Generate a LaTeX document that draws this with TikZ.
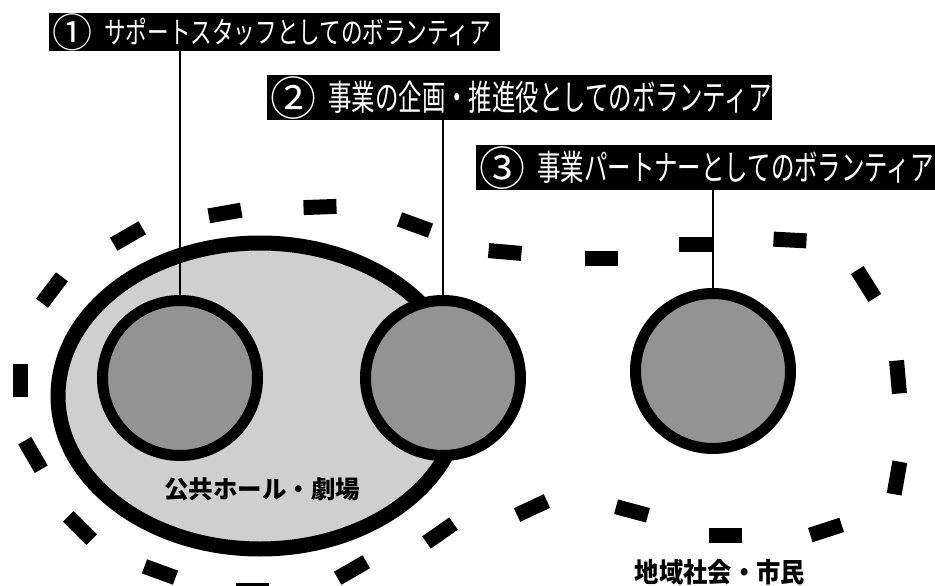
\documentclass[tikz,border=0pt]{standalone}
\usepackage{fontspec}
\newfontfamily\jp{Noto Sans CJK JP}
\newfontfamily\jpa[FakeStretch=0.72]{Noto Sans CJK JP}
\newfontfamily\jpb[FakeStretch=0.67]{Noto Sans CJK JP}
\newfontfamily\jpc[FakeStretch=0.9]{Noto Sans CJK JP}
\usetikzlibrary{shapes.geometric}
\definecolor{hallgray}{HTML}{CFCFCF}
\definecolor{volgray}{HTML}{939393}
\newcommand{\circnum}[2]{\raisebox{-0.13em}{\jp\fontsize{#1}{#1}\selectfont #2}\hspace{12pt}}
\begin{document}
\begin{tikzpicture}[x=1pt,y=-1pt,
  lbox/.style={fill=black, draw=none, minimum height=45, inner sep=0, anchor=north west},
  ltext/.style={text=white, anchor=west, inner sep=0},
  member/.style={circle, draw=black, line width=11, fill=volgray, minimum size=155, inner sep=0},
  conn/.style={draw=black, line width=1.8},
  dashmark/.style={fill=black, minimum width=33, minimum height=15, inner sep=0},
  area/.style={font=\jp\bfseries\fontsize{24.5}{25}\selectfont, inner sep=0}]
\useasboundingbox (0,0) rectangle (935,586);
\clip (0,0) rectangle (935,586);
\fill[white] (0,0) rectangle (935,586);

% dashed ring (community)
\foreach \x/\y/\a in {52/290/53, 128/236/30, 225/213/10, 320/207/2, 415/225/-20,
  505/252/-5, 601/258/0, 695/244/0, 790/240/-3, 866/284/-58, 898/377/-85,
  897/478/80, 826/530/18, 725/535/0, 632/511/-15, 532/508/25, 440/533/35,
  352/570/30, 252/590/0, 160/572/-20, 80/528/-45, 33/455/-60, 20/380/90}
  \node[dashmark, rotate=\a] at (\x,\y) {};

% hall
\node[ellipse, draw=black, line width=15, fill=hallgray, minimum width=404,
  minimum height=306, inner sep=0] (hall) at (260,396) {};

% volunteer circles
\node[member] (c1) at (180,378) {};
\node[member] (c2) at (443,378) {};
\node[member] (c3) at (713,371) {};

% label boxes
\node[lbox, minimum width=451, minimum height=38] (b1) at (49,13) {};
\node[ltext, font=\jpa\fontsize{30}{30}\selectfont] (t1) at ([xshift=3]b1.west) {\circnum{40}{①}サポートスタッフとしてのボランティア};
\node[lbox, minimum width=505] (b2) at (267,75) {};
\node[ltext, font=\jpb\fontsize{35}{35}\selectfont] (t2) at ([xshift=3]b2.west) {\circnum{46}{②}事業の企画・推進役としてのボランティア};
\node[lbox, minimum width=470] (b3) at (476,145) {};
\node[ltext, font=\jpb\fontsize{35}{35}\selectfont] (t3) at ([xshift=3]b3.west) {\circnum{46}{③}事業パートナーとしてのボランティア};

% connectors
\draw[conn] (b1.south -| c1.north) -- (c1.north);
\draw[conn] (b2.south -| c2.north) -- (c2.north);
\draw[conn] (b3.south -| c3.north) -- (c3.north);

% area names
\node[area] (hallname) at (262,489) {公共ホール・劇場};
\node[area, font=\jpc\bfseries\fontsize{27}{27}\selectfont] (cityname) at (720,572) {地域社会・市民};
\end{tikzpicture}
\end{document}
